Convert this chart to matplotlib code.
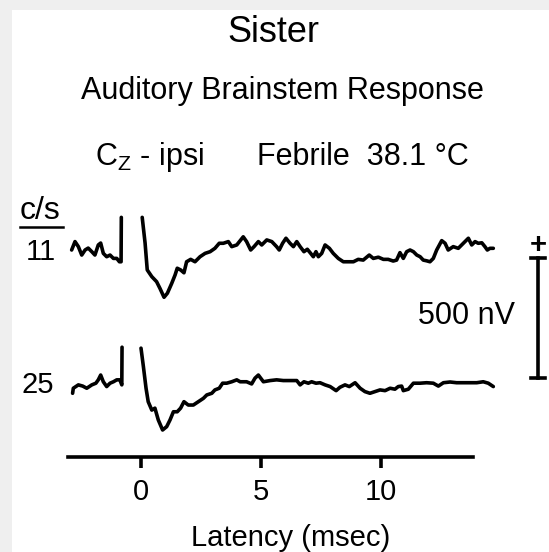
import matplotlib

matplotlib.use("Agg")
from matplotlib import pyplot as plt
from matplotlib.patches import Rectangle

# latency (msec) / amplitude (nV)
pre11_t = [-2.89, -2.75, -2.61, -2.47, -2.33, -2.20, -2.05, -1.92, -1.78, -1.68,
           -1.57, -1.43, -1.29, -1.15, -1.01, -0.90, -0.83, -0.82]
pre11_v = [0, 35, 14, -21, 0, 8, -7, -21, 21, 29,
           -14, -28, -21, -35, -35, -49, -49, 136]
post11_t = [0.05, 0.17, 0.26, 0.45, 0.65, 0.79, 0.96, 1.10, 1.28, 1.42,
            1.51, 1.65, 1.79, 1.90, 2.07, 2.25, 2.46, 2.67, 2.88, 3.08,
            3.26, 3.43, 3.64, 3.78, 3.99, 4.26, 4.40, 4.57, 4.71, 4.89,
            5.03, 5.24, 5.45, 5.65, 5.76, 5.90, 6.04, 6.21, 6.35, 6.49,
            6.63, 6.79, 6.93, 7.07, 7.18, 7.29, 7.39, 7.53, 7.67, 7.85,
            8.01, 8.22, 8.43, 8.64, 8.85, 9.05, 9.26, 9.51, 9.68, 9.89,
            10.10, 10.30, 10.51, 10.65, 10.79, 10.93, 11.07, 11.21, 11.35, 11.49,
            11.63, 11.76, 11.90, 12.04, 12.18, 12.32, 12.53, 12.67, 12.80, 13.01,
            13.22, 13.43, 13.64, 13.78, 13.92, 14.05, 14.20, 14.33, 14.43, 14.54,
            14.68]
post11_v = [136, 29, -83, -111, -132, -160, -197, -180, -139, -104,
            -76, -83, -95, -49, -39, -49, -28, -14, -7, 7,
            28, 28, 35, 14, 21, 55, 35, 0, 14, 35,
            21, 42, 35, 14, 0, 28, 49, 28, 14, 35,
            14, -7, 3, -14, -28, -7, -28, -14, 21, 7,
            -14, -35, -49, -49, -49, -39, -42, -21, -35, -30,
            -39, -39, -46, -42, -11, -35, -7, 0, -7, -21,
            -28, -42, -45, -49, -35, 0, 39, 28, 0, 14,
            7, 28, 49, 21, 35, 28, 30, 14, 0, 7,
            7]

pre25_t = [-2.85, -2.82, -2.61, -2.43, -2.26, -2.05, -1.88, -1.78, -1.68, -1.57,
           -1.43, -1.29, -1.15, -1.01, -0.88, -0.80, -0.79]
pre25_v = [-43, -22, -8, -13, -22, -8, -1, 13, 33, 5,
           -15, -1, 5, 13, 13, -8, 149]
post25_t = [0.00, 0.10, 0.21, 0.30, 0.45, 0.58, 0.72, 0.90, 1.07, 1.21,
            1.35, 1.51, 1.65, 1.79, 1.97, 2.18, 2.39, 2.60, 2.74, 2.95,
            3.08, 3.26, 3.40, 3.57, 3.78, 3.99, 4.13, 4.40, 4.61, 4.75,
            4.89, 5.10, 5.38, 5.65, 5.93, 6.21, 6.49, 6.63, 6.79, 6.97,
            7.11, 7.29, 7.46, 7.67, 7.88, 8.13, 8.29, 8.50, 8.68, 8.92,
            9.13, 9.33, 9.54, 9.75, 9.96, 10.17, 10.38, 10.58, 10.72, 10.86,
            10.93, 11.14, 11.35, 11.63, 11.90, 12.18, 12.39, 12.60, 12.88, 13.15,
            13.43, 13.71, 13.99, 14.26, 14.47, 14.68]
post25_v = [145, 68, -22, -78, -113, -105, -154, -196, -182, -154,
            -120, -120, -105, -78, -92, -92, -78, -64, -50, -43,
            -29, -22, -1, -1, 5, 13, 5, 5, -4, 20,
            33, 5, 10, 13, 10, 10, 10, -8, 5, -1,
            5, -1, 1, -8, -15, -32, -18, -8, -15, 1,
            -22, -36, -43, -36, -29, -32, -22, -26, -15, -13,
            -32, -26, -1, -1, 1, -1, -13, 1, 4, 1,
            1, 1, 1, 5, -1, -15]

rates = ["11", "25"]
xticks = [0, 5, 10]
scale_nv = 500

W, H = 549, 552
LW = 2.6
plt.rcParams["font.family"] = ["Liberation Sans", "DejaVu Sans"]
plt.rcParams["mathtext.fontset"] = "custom"
plt.rcParams["mathtext.rm"] = "Liberation Sans"

fig = plt.figure(figsize=(W / 100, H / 100), dpi=100)
fig.patch.set_facecolor("#efefef")
fig.patches.append(Rectangle((12 / W, 0), 1, 1 - 10 / H, transform=fig.transFigure,
                             facecolor="white", edgecolor="none", zorder=-10))

# 24 px per msec, 120 px per 500 nV; trace 11 baseline at y=250 px
ax = fig.add_axes([0, 0, 1, 1])
ax.set_xlim(-141 / 24, (W - 141) / 24)
ax.set_ylim(-(H - 250) * 500 / 120, 250 * 500 / 120)
ax.axis("off")
ax.patch.set_alpha(0)

offsets = [0, -554]
traces = [(pre11_t, pre11_v, post11_t, post11_v), (pre25_t, pre25_v, post25_t, post25_v)]
for (pt, pv, qt, qv), off in zip(traces, offsets):
    for t, v in ((pt, pv), (qt, qv)):
        ax.plot(t, [a + off for a in v], color="black", lw=LW,
                solid_joinstyle="round", solid_capstyle="round")

# scale bar
bx = 16.54
ax.plot([bx, bx], [-33, -33 - scale_nv], color="black", lw=LW)
for yy in (-33, -33 - scale_nv):
    ax.plot([bx - 0.29, bx + 0.29], [yy, yy], color="black", lw=LW)
fig.text(538 / W, 1 - 245 / H, "+", ha="center", va="center", fontsize=21, fontweight="bold")
fig.text(515 / W, 1 - 316 / H, "%d nV" % scale_nv, ha="right", va="center", fontsize=22)

# x axis
ax2 = fig.add_axes([68 / W, 1 - 457 / H, 405 / W, 0.0001])
ax2.set_xlim(-3.04, 13.83)
ax2.patch.set_alpha(0)
for s in ("top", "left", "right"):
    ax2.spines[s].set_visible(False)
ax2.spines["bottom"].set_linewidth(LW)
ax2.set_yticks([])
ax2.set_xticks(xticks)
ax2.tick_params(axis="x", length=8, width=LW, pad=7, labelsize=21)
fig.text(291 / W, 1 - 538 / H, "Latency (msec)", ha="center", va="center", fontsize=21)

# titles and labels
fig.text(273 / W, 1 - 33 / H, "Sister", ha="center", va="center", fontsize=26)
fig.text(282 / W, 1 - 91 / H, "Auditory Brainstem Response", ha="center", va="center", fontsize=22)
fig.text(95 / W, 1 - 157 / H, r"C$_{\rm Z}$ - ipsi", ha="left", va="center", fontsize=22)
fig.text(257 / W, 1 - 157 / H, "Febrile  38.1 \u00b0C", ha="left", va="center", fontsize=22)
fig.text(20 / W, 1 - 211 / H, "c/s", ha="left", va="center", fontsize=23)
fig.add_artist(plt.Line2D([20 / W, 63 / W], [1 - 227 / H] * 2, color="black", lw=1.8))
fig.text(56 / W, 1 - 252 / H, rates[0], ha="right", va="center", fontsize=21)
fig.text(54 / W, 1 - 385 / H, rates[1], ha="right", va="center", fontsize=21)

fig.savefig("out.png", dpi=100, facecolor=fig.get_facecolor())
